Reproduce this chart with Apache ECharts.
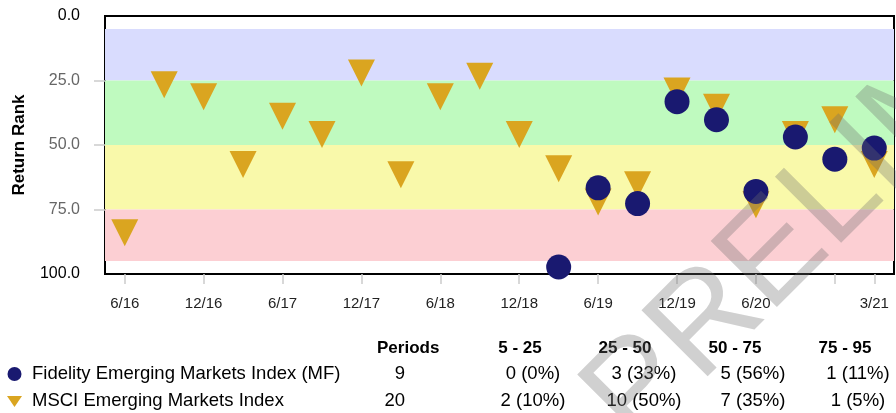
<!DOCTYPE html>
<html>
<head>
<meta charset="utf-8">
<script src="https://cdn.jsdelivr.net/npm/echarts@6/dist/echarts.min.js"></script>
<style>
  html, body { margin: 0; padding: 0; background: #fff; }
  #chart { width: 896px; height: 413px; }
</style>
</head>
<body>
<div id="chart"></div>
<script>
// Quarter-end labels on the x axis
const categories = ['6/16','9/16','12/16','3/17','6/17','9/17','12/17','3/18','6/18','9/18',
                    '12/18','3/19','6/19','9/19','12/19','3/20','6/20','9/20','12/20','3/21'];

// Return rank per quarter (lower is better)
const fundName = 'Fidelity Emerging Markets Index (MF)';
const fundRank = [null, null, null, null, null, null, null, null, null, null,
                  null, 97.3, 66.6, 72.7, 33.2, 40.2, 68.0, 46.9, 55.5, 51.2];

const indexName = 'MSCI Emerging Markets Index';
const indexRank = [84.0, 26.6, 31.3, 57.6, 38.9, 45.9, 22.1, 61.5, 31.3, 23.4,
                   45.9, 59.2, 72.1, 65.4, 29.1, 35.4, 73.2, 45.9, 40.2, 57.6];

// Quartile bands
const bandEdges = [5, 25, 50, 75, 95];
const bandTitles = ['5 - 25', '25 - 50', '50 - 75', '75 - 95'];
const bandColors = ['#d9dcfe', '#bffabf', '#f9f9aa', '#fccfd3'];

const yTicks = [0, 25, 50, 75, 100];

function bandOf(v) {
  if (v < bandEdges[1]) return 0;
  if (v < bandEdges[2]) return 1;
  if (v < bandEdges[3]) return 2;
  return 3;
}
function summarize(values) {
  const vals = values.filter(v => v != null);
  const counts = [0, 0, 0, 0];
  vals.forEach(v => counts[bandOf(v)]++);
  return {
    periods: vals.length,
    cells: counts.map(c => c + ' (' + Math.round(100 * c / vals.length) + '%)')
  };
}

const chart = echarts.init(document.getElementById('chart'), null, { renderer: 'canvas' });
const FONT = '"Liberation Sans", Arial, Helvetica, sans-serif';

const bandAreas = bandColors.map((c, i) => [
  { yAxis: bandEdges[i], itemStyle: { color: c } },
  { yAxis: bandEdges[i + 1] }
]);

// Summary table under the plot
const fundSum = summarize(fundRank);
const indexSum = summarize(indexRank);
const headY = 348, row1Y = 374, row2Y = 401;
const headX = [520, 625, 735, 845];
const cellX = [533, 644, 753, 858];
const graphic = [];
const txt = (x, y, s, opt) => graphic.push(Object.assign({
  type: 'text', x: x, y: y, silent: true,
  style: Object.assign({ text: s, fill: '#000', font: '18.5px ' + FONT, align: 'left', verticalAlign: 'middle' }, opt || {})
}));
txt(377, headY, 'Periods', { font: 'bold 17px ' + FONT });
bandTitles.forEach((t, i) => txt(headX[i], headY, t, { font: 'bold 17px ' + FONT, align: 'center' }));
graphic.push({ type: 'circle', shape: { cx: 14.5, cy: row1Y, r: 7 }, style: { fill: '#191970' }, silent: true });
graphic.push({ type: 'polygon', shape: { points: [[7, row2Y - 5], [22, row2Y - 5], [14.5, row2Y + 6]] }, style: { fill: '#daa520' }, silent: true });
txt(32, row1Y, fundName);
txt(32, row2Y, indexName);
txt(405, row1Y, String(fundSum.periods), { align: 'right' });
txt(405, row2Y, String(indexSum.periods), { align: 'right' });
fundSum.cells.forEach((s, i) => txt(cellX[i], row1Y, s, { align: 'center' }));
indexSum.cells.forEach((s, i) => txt(cellX[i], row2Y, s, { align: 'center' }));

// Draft watermark across the lower right
graphic.push({
  type: 'text', x: 609, y: 422, rotation: Math.PI / 4, z: 100, silent: true,
  style: { text: 'PRELIMINARY', font: '136px ' + FONT, fill: 'rgba(110,110,110,0.32)',
           align: 'left', verticalAlign: 'middle' }
});

chart.setOption({
  animation: false,
  backgroundColor: '#fff',
  grid: { left: 105, right: 2, top: 16, height: 258, show: true, borderColor: '#000', borderWidth: 2, backgroundColor: '#fff', containLabel: false },
  xAxis: {
    type: 'category',
    data: categories,
    position: 'bottom',
    boundaryGap: true,
    axisLine: { show: false, onZero: false },
    axisTick: {
      show: true, alignWithLabel: true, length: 10,
      interval: (i) => i % 2 === 0 || i === categories.length - 1,
      lineStyle: { color: '#cccccc', width: 1.5 }
    },
    axisLabel: {
      margin: 22, fontSize: 15, fontFamily: FONT, color: '#222',
      interval: (i) => (i % 2 === 0 && i < categories.length - 2) || i === categories.length - 1
    },
    splitLine: { show: false }
  },
  yAxis: {
    type: 'value',
    inverse: true,
    min: 0, max: 100, interval: 25,
    name: 'Return Rank',
    nameLocation: 'middle',
    nameGap: 77,
    nameTextStyle: { fontSize: 17, fontWeight: 'bold', fontFamily: FONT, color: '#000' },
    axisLine: { show: false },
    axisTick: { show: true, customValues: [25, 50, 75], length: 11, lineStyle: { color: '#cccccc', width: 1.5 } },
    axisLabel: {
      margin: 25,
      customValues: yTicks,
      formatter: (v) => (v === 0 || v === 100) ? '{k|' + v.toFixed(1) + '}' : '{g|' + v.toFixed(1) + '}',
      rich: {
        k: { fontSize: 16, fontFamily: FONT, color: '#000' },
        g: { fontSize: 16, fontFamily: FONT, color: '#666' }
      }
    },
    splitLine: { show: false }
  },
  series: [
    {
      name: 'bands', type: 'scatter', data: [], z: 1, silent: true,
      markArea: { silent: true, data: bandAreas }
    },
    {
      name: indexName, type: 'scatter', data: indexRank, z: 3,
      symbol: 'triangle', symbolRotate: 180, symbolSize: [27, 27],
      itemStyle: { color: '#daa520', opacity: 1 }
    },
    {
      name: fundName, type: 'scatter', data: fundRank, z: 4,
      symbol: 'circle', symbolSize: 25,
      itemStyle: { color: '#191970', opacity: 1 }
    }
  ],
  graphic: graphic
});
</script>
</body>
</html>
